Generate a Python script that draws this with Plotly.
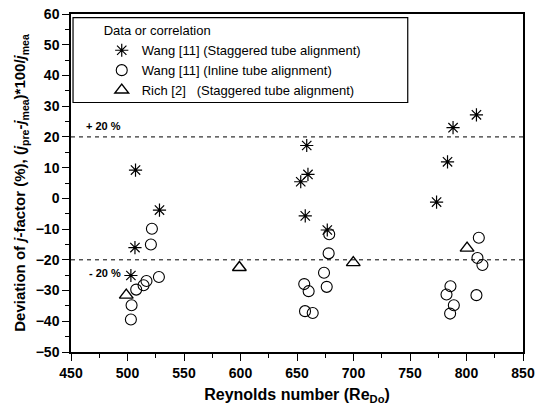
import plotly.graph_objects as go

# ---- data ----
wang_stag_re = [507.1, 528.3, 506.6, 503.0,
                658.6, 659.7, 653.3, 657.3, 676.8,
                808.8, 788.1, 783.2, 773.5]
wang_stag_dev = [9.2, -3.8, -16.0, -25.1,
                 17.2, 7.8, 5.4, -5.7, -10.3,
                 27.2, 23.0, 11.9, -1.2]

wang_inline_re = [521.6, 520.7, 527.8, 516.8, 514.2, 507.7, 503.6, 503.0,
                  678.5, 678.0, 673.9, 656.4, 660.3, 676.3, 657.1, 663.9,
                  810.9, 809.7, 814.1, 785.8, 782.3, 808.8, 788.8, 785.5]
wang_inline_dev = [-9.9, -15.0, -25.6, -26.9, -28.3, -29.7, -34.8, -39.4,
                   -11.7, -17.9, -24.2, -27.9, -30.2, -28.8, -36.7, -37.3,
                   -12.8, -19.4, -21.7, -28.6, -31.3, -31.5, -34.8, -37.5]

rich_re = [498.9, 599.0, 699.8, 800.5]
rich_dev = [-31.5, -22.5, -20.9, -16.2]

band_levels = [20, -20]
band_labels = ["+ 20 %", "- 20 %"]

x_range = [450, 850]
y_range = [-50, 60]

FONT = "Liberation Sans, Arial, sans-serif"

fig = go.Figure()

fig.add_trace(go.Scatter(
    x=wang_stag_re, y=wang_stag_dev, mode="markers",
    name="Wang [11] (Staggered tube alignment)",
    marker=dict(symbol="asterisk-open", size=11, color="black",
                line=dict(color="black", width=1.2)),
))
fig.add_trace(go.Scatter(
    x=wang_inline_re, y=wang_inline_dev, mode="markers",
    name="Wang [11] (Inline tube alignment)",
    marker=dict(symbol="circle-open", size=11, color="black",
                line=dict(color="black", width=1.1)),
))
fig.add_trace(go.Scatter(
    x=rich_re, y=rich_dev, mode="markers",
    name="Rich [2]   (Staggered tube alignment)",
    marker=dict(symbol="triangle-up-open", size=12, color="black",
                line=dict(color="black", width=1.4)),
))

for lvl in band_levels:
    fig.add_shape(type="line", xref="paper", x0=0, x1=1, yref="y", y0=lvl, y1=lvl,
                  line=dict(color="black", width=1, dash="4px,4px"), layer="below")

# legend frame
fig.add_shape(type="rect", xref="x", yref="y", x0=451.8, x1=748, y0=31.2, y1=58.8,
              line=dict(color="black", width=1.2), fillcolor="white", layer="below")

fig.add_annotation(xref="paper", yref="y", x=0.028, y=23.5, text="<b>" + band_labels[0] + "</b>",
                   showarrow=False, xanchor="left", yanchor="middle",
                   font=dict(family=FONT, size=11, color="black"))
fig.add_annotation(xref="paper", yref="y", x=0.035, y=-24.4, text="<b>" + band_labels[1] + "</b>",
                   showarrow=False, xanchor="left", yanchor="middle",
                   font=dict(family=FONT, size=11, color="black"))

axis_common = dict(
    showline=True, linecolor="black", linewidth=1.5, mirror=True,
    ticks="outside", ticklen=7, tickwidth=1.2, tickcolor="black",
    showgrid=False, zeroline=False, automargin=False,
    tickfont=dict(family=FONT, size=14, color="black", weight="bold"),
)

fig.update_xaxes(range=x_range, dtick=50, tick0=450,
                 minor=dict(dtick=25, ticks="outside", ticklen=4, tickcolor="black", tickwidth=1),
                 title=dict(text="Reynolds number (Re<sub>Do</sub>)", standoff=14,
                            font=dict(family=FONT, size=16, color="black", weight="bold")),
                 **axis_common)
fig.update_yaxes(range=y_range, dtick=10, tick0=-50,
                 minor=dict(dtick=5, ticks="outside", ticklen=4, tickcolor="black", tickwidth=1),
                 title=dict(text="Deviation of <i>j</i>-factor (%), (<i>j</i><sub>pre</sub>-<i>j</i><sub>mea</sub>)*100/<i>j</i><sub>mea</sub>",
                            standoff=6,
                            font=dict(family=FONT, size=15, color="black", weight="bold")),
                 **axis_common)

fig.update_layout(
    width=546, height=405,
    margin=dict(l=71, r=23, t=14, b=53),
    paper_bgcolor="white", plot_bgcolor="white",
    showlegend=True,
    legend=dict(
        x=0.068, y=0.987, xanchor="left", yanchor="top",
        bgcolor="rgba(0,0,0,0)", borderwidth=0,
        font=dict(family=FONT, size=13, color="black"),
        title=dict(text="Data or correlation", font=dict(family=FONT, size=13, color="black")),
        tracegroupgap=0, itemwidth=30,
    ),
)

fig.write_html("out.html")
